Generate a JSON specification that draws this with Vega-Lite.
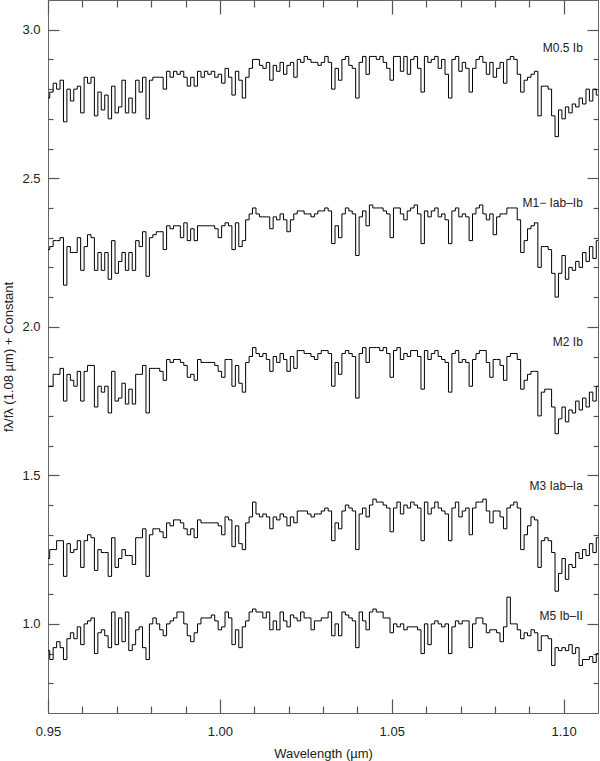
{
"$schema":"https://vega.github.io/schema/vega-lite/v6.json",
"width":550,"height":713,
"autosize":"none",
"padding":{"left":48,"top":0,"right":2,"bottom":48},
"background":"white",
"config":{"view":{"stroke":"#666","strokeWidth":1},
"axis":{"grid":false,"domain":false,"ticks":true,"tickColor":"#555","tickWidth":1.2,"labelFont":"Liberation Sans","labelFontSize":13,"labelColor":"#222","titleFont":"Liberation Sans","titleFontSize":13,"titleFontWeight":"normal","titleColor":"#222","labelFlush":false}},
"datasets":{
"m05":[{"w":0.950,"f":2.77},{"w":0.951,"f":2.79},{"w":0.952,"f":2.82},{"w":0.953,"f":2.80},{"w":0.954,"f":2.83},{"w":0.955,"f":2.69},{"w":0.956,"f":2.80},{"w":0.957,"f":2.76},{"w":0.958,"f":2.80},{"w":0.959,"f":2.81},
{"w":0.960,"f":2.72},{"w":0.961,"f":2.84},{"w":0.962,"f":2.82},{"w":0.963,"f":2.84},{"w":0.964,"f":2.71},{"w":0.965,"f":2.79},{"w":0.966,"f":2.73},{"w":0.967,"f":2.78},{"w":0.968,"f":2.70},{"w":0.969,"f":2.81},
{"w":0.970,"f":2.72},{"w":0.971,"f":2.74},{"w":0.972,"f":2.83},{"w":0.973,"f":2.72},{"w":0.974,"f":2.77},{"w":0.975,"f":2.72},{"w":0.976,"f":2.83},{"w":0.977,"f":2.79},{"w":0.978,"f":2.84},{"w":0.979,"f":2.70},
{"w":0.980,"f":2.83},{"w":0.981,"f":2.84},{"w":0.982,"f":2.84},{"w":0.983,"f":2.84},{"w":0.984,"f":2.80},{"w":0.985,"f":2.86},{"w":0.986,"f":2.84},{"w":0.987,"f":2.86},{"w":0.988,"f":2.85},{"w":0.989,"f":2.86},
{"w":0.990,"f":2.84},{"w":0.991,"f":2.81},{"w":0.992,"f":2.84},{"w":0.993,"f":2.81},{"w":0.994,"f":2.86},{"w":0.995,"f":2.84},{"w":0.996,"f":2.86},{"w":0.997,"f":2.85},{"w":0.998,"f":2.86},{"w":0.999,"f":2.84},
{"w":1.000,"f":2.85},{"w":1.001,"f":2.82},{"w":1.002,"f":2.87},{"w":1.003,"f":2.84},{"w":1.004,"f":2.78},{"w":1.005,"f":2.86},{"w":1.006,"f":2.83},{"w":1.007,"f":2.77},{"w":1.008,"f":2.84},{"w":1.009,"f":2.87},
{"w":1.010,"f":2.90},{"w":1.011,"f":2.90},{"w":1.012,"f":2.88},{"w":1.013,"f":2.87},{"w":1.014,"f":2.89},{"w":1.015,"f":2.83},{"w":1.016,"f":2.88},{"w":1.017,"f":2.86},{"w":1.018,"f":2.89},{"w":1.019,"f":2.85},
{"w":1.020,"f":2.88},{"w":1.021,"f":2.89},{"w":1.022,"f":2.84},{"w":1.023,"f":2.90},{"w":1.024,"f":2.89},{"w":1.025,"f":2.91},{"w":1.026,"f":2.90},{"w":1.027,"f":2.89},{"w":1.028,"f":2.89},{"w":1.029,"f":2.88},
{"w":1.030,"f":2.89},{"w":1.031,"f":2.91},{"w":1.032,"f":2.89},{"w":1.033,"f":2.80},{"w":1.034,"f":2.87},{"w":1.035,"f":2.83},{"w":1.036,"f":2.90},{"w":1.037,"f":2.91},{"w":1.038,"f":2.88},{"w":1.039,"f":2.87},
{"w":1.040,"f":2.77},{"w":1.041,"f":2.89},{"w":1.042,"f":2.91},{"w":1.043,"f":2.85},{"w":1.044,"f":2.91},{"w":1.045,"f":2.91},{"w":1.046,"f":2.90},{"w":1.047,"f":2.91},{"w":1.048,"f":2.89},{"w":1.049,"f":2.87},
{"w":1.050,"f":2.83},{"w":1.051,"f":2.91},{"w":1.052,"f":2.91},{"w":1.053,"f":2.86},{"w":1.054,"f":2.91},{"w":1.055,"f":2.85},{"w":1.056,"f":2.90},{"w":1.057,"f":2.91},{"w":1.058,"f":2.87},{"w":1.059,"f":2.79},
{"w":1.060,"f":2.91},{"w":1.061,"f":2.89},{"w":1.062,"f":2.90},{"w":1.063,"f":2.91},{"w":1.064,"f":2.87},{"w":1.065,"f":2.90},{"w":1.066,"f":2.85},{"w":1.067,"f":2.77},{"w":1.068,"f":2.90},{"w":1.069,"f":2.91},
{"w":1.070,"f":2.86},{"w":1.071,"f":2.89},{"w":1.072,"f":2.87},{"w":1.073,"f":2.79},{"w":1.074,"f":2.87},{"w":1.075,"f":2.90},{"w":1.076,"f":2.91},{"w":1.077,"f":2.89},{"w":1.078,"f":2.85},{"w":1.079,"f":2.89},
{"w":1.080,"f":2.84},{"w":1.081,"f":2.87},{"w":1.082,"f":2.89},{"w":1.083,"f":2.82},{"w":1.084,"f":2.90},{"w":1.085,"f":2.91},{"w":1.086,"f":2.90},{"w":1.087,"f":2.85},{"w":1.088,"f":2.79},{"w":1.089,"f":2.83},
{"w":1.090,"f":2.84},{"w":1.091,"f":2.85},{"w":1.092,"f":2.86},{"w":1.093,"f":2.71},{"w":1.094,"f":2.81},{"w":1.095,"f":2.81},{"w":1.096,"f":2.80},{"w":1.097,"f":2.71},{"w":1.098,"f":2.64},{"w":1.099,"f":2.73},
{"w":1.100,"f":2.70},{"w":1.101,"f":2.74},{"w":1.102,"f":2.72},{"w":1.103,"f":2.75},{"w":1.104,"f":2.74},{"w":1.105,"f":2.77},{"w":1.106,"f":2.75},{"w":1.107,"f":2.80},{"w":1.108,"f":2.76},{"w":1.109,"f":2.80},{"w":1.110,"f":2.78}],
"m1":[{"w":0.950,"f":2.26},{"w":0.951,"f":2.27},{"w":0.952,"f":2.29},{"w":0.953,"f":2.29},{"w":0.954,"f":2.30},{"w":0.955,"f":2.14},{"w":0.956,"f":2.27},{"w":0.957,"f":2.25},{"w":0.958,"f":2.25},{"w":0.959,"f":2.30},
{"w":0.960,"f":2.19},{"w":0.961,"f":2.27},{"w":0.962,"f":2.31},{"w":0.963,"f":2.30},{"w":0.964,"f":2.19},{"w":0.965,"f":2.25},{"w":0.966,"f":2.19},{"w":0.967,"f":2.25},{"w":0.968,"f":2.16},{"w":0.969,"f":2.29},
{"w":0.970,"f":2.18},{"w":0.971,"f":2.22},{"w":0.972,"f":2.25},{"w":0.973,"f":2.19},{"w":0.974,"f":2.25},{"w":0.975,"f":2.19},{"w":0.976,"f":2.29},{"w":0.977,"f":2.27},{"w":0.978,"f":2.32},{"w":0.979,"f":2.17},
{"w":0.980,"f":2.30},{"w":0.981,"f":2.31},{"w":0.982,"f":2.32},{"w":0.983,"f":2.32},{"w":0.984,"f":2.26},{"w":0.985,"f":2.34},{"w":0.986,"f":2.33},{"w":0.987,"f":2.34},{"w":0.988,"f":2.34},{"w":0.989,"f":2.30},
{"w":0.990,"f":2.35},{"w":0.991,"f":2.29},{"w":0.992,"f":2.33},{"w":0.993,"f":2.29},{"w":0.994,"f":2.34},{"w":0.995,"f":2.34},{"w":0.996,"f":2.34},{"w":0.997,"f":2.34},{"w":0.998,"f":2.34},{"w":0.999,"f":2.33},
{"w":1.000,"f":2.30},{"w":1.001,"f":2.34},{"w":1.002,"f":2.35},{"w":1.003,"f":2.34},{"w":1.004,"f":2.26},{"w":1.005,"f":2.35},{"w":1.006,"f":2.27},{"w":1.007,"f":2.29},{"w":1.008,"f":2.36},{"w":1.009,"f":2.38},
{"w":1.010,"f":2.40},{"w":1.011,"f":2.38},{"w":1.012,"f":2.37},{"w":1.013,"f":2.37},{"w":1.014,"f":2.37},{"w":1.015,"f":2.33},{"w":1.016,"f":2.37},{"w":1.017,"f":2.36},{"w":1.018,"f":2.38},{"w":1.019,"f":2.36},
{"w":1.020,"f":2.32},{"w":1.021,"f":2.36},{"w":1.022,"f":2.38},{"w":1.023,"f":2.39},{"w":1.024,"f":2.39},{"w":1.025,"f":2.38},{"w":1.026,"f":2.38},{"w":1.027,"f":2.37},{"w":1.028,"f":2.38},{"w":1.029,"f":2.39},
{"w":1.030,"f":2.39},{"w":1.031,"f":2.40},{"w":1.032,"f":2.39},{"w":1.033,"f":2.28},{"w":1.034,"f":2.34},{"w":1.035,"f":2.30},{"w":1.036,"f":2.38},{"w":1.037,"f":2.40},{"w":1.038,"f":2.39},{"w":1.039,"f":2.38},
{"w":1.040,"f":2.24},{"w":1.041,"f":2.37},{"w":1.042,"f":2.39},{"w":1.043,"f":2.34},{"w":1.044,"f":2.41},{"w":1.045,"f":2.40},{"w":1.046,"f":2.40},{"w":1.047,"f":2.40},{"w":1.048,"f":2.39},{"w":1.049,"f":2.38},
{"w":1.050,"f":2.30},{"w":1.051,"f":2.40},{"w":1.052,"f":2.40},{"w":1.053,"f":2.38},{"w":1.054,"f":2.36},{"w":1.055,"f":2.39},{"w":1.056,"f":2.40},{"w":1.057,"f":2.41},{"w":1.058,"f":2.38},{"w":1.059,"f":2.28},
{"w":1.060,"f":2.39},{"w":1.061,"f":2.37},{"w":1.062,"f":2.39},{"w":1.063,"f":2.40},{"w":1.064,"f":2.37},{"w":1.065,"f":2.38},{"w":1.066,"f":2.36},{"w":1.067,"f":2.28},{"w":1.068,"f":2.39},{"w":1.069,"f":2.40},
{"w":1.070,"f":2.37},{"w":1.071,"f":2.38},{"w":1.072,"f":2.37},{"w":1.073,"f":2.29},{"w":1.074,"f":2.38},{"w":1.075,"f":2.40},{"w":1.076,"f":2.41},{"w":1.077,"f":2.38},{"w":1.078,"f":2.36},{"w":1.079,"f":2.38},
{"w":1.080,"f":2.31},{"w":1.081,"f":2.37},{"w":1.082,"f":2.38},{"w":1.083,"f":2.38},{"w":1.084,"f":2.40},{"w":1.085,"f":2.40},{"w":1.086,"f":2.40},{"w":1.087,"f":2.36},{"w":1.088,"f":2.25},{"w":1.089,"f":2.29},
{"w":1.090,"f":2.33},{"w":1.091,"f":2.34},{"w":1.092,"f":2.35},{"w":1.093,"f":2.20},{"w":1.094,"f":2.27},{"w":1.095,"f":2.27},{"w":1.096,"f":2.26},{"w":1.097,"f":2.18},{"w":1.098,"f":2.10},{"w":1.099,"f":2.18},
{"w":1.100,"f":2.24},{"w":1.101,"f":2.16},{"w":1.102,"f":2.20},{"w":1.103,"f":2.19},{"w":1.104,"f":2.22},{"w":1.105,"f":2.20},{"w":1.106,"f":2.25},{"w":1.107,"f":2.22},{"w":1.108,"f":2.27},{"w":1.109,"f":2.23},{"w":1.110,"f":2.29}],
"m2":[{"w":0.950,"f":1.80},{"w":0.951,"f":1.80},{"w":0.952,"f":1.84},{"w":0.953,"f":1.84},{"w":0.954,"f":1.86},{"w":0.955,"f":1.75},{"w":0.956,"f":1.84},{"w":0.957,"f":1.82},{"w":0.958,"f":1.80},{"w":0.959,"f":1.85},
{"w":0.960,"f":1.75},{"w":0.961,"f":1.85},{"w":0.962,"f":1.87},{"w":0.963,"f":1.87},{"w":0.964,"f":1.73},{"w":0.965,"f":1.80},{"w":0.966,"f":1.78},{"w":0.967,"f":1.80},{"w":0.968,"f":1.71},{"w":0.969,"f":1.85},
{"w":0.970,"f":1.75},{"w":0.971,"f":1.76},{"w":0.972,"f":1.81},{"w":0.973,"f":1.74},{"w":0.974,"f":1.79},{"w":0.975,"f":1.74},{"w":0.976,"f":1.84},{"w":0.977,"f":1.84},{"w":0.978,"f":1.87},{"w":0.979,"f":1.71},
{"w":0.980,"f":1.86},{"w":0.981,"f":1.86},{"w":0.982,"f":1.86},{"w":0.983,"f":1.85},{"w":0.984,"f":1.82},{"w":0.985,"f":1.89},{"w":0.986,"f":1.88},{"w":0.987,"f":1.89},{"w":0.988,"f":1.89},{"w":0.989,"f":1.88},
{"w":0.990,"f":1.87},{"w":0.991,"f":1.83},{"w":0.992,"f":1.84},{"w":0.993,"f":1.82},{"w":0.994,"f":1.89},{"w":0.995,"f":1.88},{"w":0.996,"f":1.88},{"w":0.997,"f":1.88},{"w":0.998,"f":1.88},{"w":0.999,"f":1.87},
{"w":1.000,"f":1.85},{"w":1.001,"f":1.83},{"w":1.002,"f":1.89},{"w":1.003,"f":1.89},{"w":1.004,"f":1.80},{"w":1.005,"f":1.87},{"w":1.006,"f":1.81},{"w":1.007,"f":1.78},{"w":1.008,"f":1.88},{"w":1.009,"f":1.90},
{"w":1.010,"f":1.93},{"w":1.011,"f":1.91},{"w":1.012,"f":1.90},{"w":1.013,"f":1.91},{"w":1.014,"f":1.89},{"w":1.015,"f":1.85},{"w":1.016,"f":1.90},{"w":1.017,"f":1.88},{"w":1.018,"f":1.91},{"w":1.019,"f":1.89},
{"w":1.020,"f":1.85},{"w":1.021,"f":1.90},{"w":1.022,"f":1.86},{"w":1.023,"f":1.92},{"w":1.024,"f":1.92},{"w":1.025,"f":1.91},{"w":1.026,"f":1.91},{"w":1.027,"f":1.90},{"w":1.028,"f":1.89},{"w":1.029,"f":1.91},
{"w":1.030,"f":1.92},{"w":1.031,"f":1.92},{"w":1.032,"f":1.91},{"w":1.033,"f":1.80},{"w":1.034,"f":1.88},{"w":1.035,"f":1.84},{"w":1.036,"f":1.91},{"w":1.037,"f":1.92},{"w":1.038,"f":1.91},{"w":1.039,"f":1.90},
{"w":1.040,"f":1.76},{"w":1.041,"f":1.91},{"w":1.042,"f":1.93},{"w":1.043,"f":1.88},{"w":1.044,"f":1.93},{"w":1.045,"f":1.93},{"w":1.046,"f":1.93},{"w":1.047,"f":1.92},{"w":1.048,"f":1.93},{"w":1.049,"f":1.91},
{"w":1.050,"f":1.83},{"w":1.051,"f":1.92},{"w":1.052,"f":1.93},{"w":1.053,"f":1.89},{"w":1.054,"f":1.91},{"w":1.055,"f":1.90},{"w":1.056,"f":1.92},{"w":1.057,"f":1.92},{"w":1.058,"f":1.90},{"w":1.059,"f":1.79},
{"w":1.060,"f":1.92},{"w":1.061,"f":1.89},{"w":1.062,"f":1.91},{"w":1.063,"f":1.92},{"w":1.064,"f":1.90},{"w":1.065,"f":1.89},{"w":1.066,"f":1.88},{"w":1.067,"f":1.78},{"w":1.068,"f":1.91},{"w":1.069,"f":1.92},
{"w":1.070,"f":1.88},{"w":1.071,"f":1.89},{"w":1.072,"f":1.88},{"w":1.073,"f":1.80},{"w":1.074,"f":1.89},{"w":1.075,"f":1.91},{"w":1.076,"f":1.92},{"w":1.077,"f":1.92},{"w":1.078,"f":1.88},{"w":1.079,"f":1.83},
{"w":1.080,"f":1.89},{"w":1.081,"f":1.89},{"w":1.082,"f":1.87},{"w":1.083,"f":1.82},{"w":1.084,"f":1.90},{"w":1.085,"f":1.91},{"w":1.086,"f":1.91},{"w":1.087,"f":1.89},{"w":1.088,"f":1.79},{"w":1.089,"f":1.82},
{"w":1.090,"f":1.84},{"w":1.091,"f":1.85},{"w":1.092,"f":1.85},{"w":1.093,"f":1.70},{"w":1.094,"f":1.78},{"w":1.095,"f":1.79},{"w":1.096,"f":1.79},{"w":1.097,"f":1.73},{"w":1.098,"f":1.64},{"w":1.099,"f":1.69},
{"w":1.100,"f":1.73},{"w":1.101,"f":1.68},{"w":1.102,"f":1.72},{"w":1.103,"f":1.71},{"w":1.104,"f":1.75},{"w":1.105,"f":1.72},{"w":1.106,"f":1.76},{"w":1.107,"f":1.73},{"w":1.108,"f":1.78},{"w":1.109,"f":1.75},{"w":1.110,"f":1.80}],
"m3":[{"w":0.950,"f":1.22},{"w":0.951,"f":1.25},{"w":0.952,"f":1.25},{"w":0.953,"f":1.28},{"w":0.954,"f":1.28},{"w":0.955,"f":1.16},{"w":0.956,"f":1.27},{"w":0.957,"f":1.24},{"w":0.958,"f":1.25},{"w":0.959,"f":1.28},
{"w":0.960,"f":1.19},{"w":0.961,"f":1.28},{"w":0.962,"f":1.30},{"w":0.963,"f":1.29},{"w":0.964,"f":1.18},{"w":0.965,"f":1.25},{"w":0.966,"f":1.24},{"w":0.967,"f":1.24},{"w":0.968,"f":1.16},{"w":0.969,"f":1.29},
{"w":0.970,"f":1.19},{"w":0.971,"f":1.22},{"w":0.972,"f":1.25},{"w":0.973,"f":1.23},{"w":0.974,"f":1.23},{"w":0.975,"f":1.20},{"w":0.976,"f":1.29},{"w":0.977,"f":1.29},{"w":0.978,"f":1.32},{"w":0.979,"f":1.16},
{"w":0.980,"f":1.30},{"w":0.981,"f":1.32},{"w":0.982,"f":1.32},{"w":0.983,"f":1.31},{"w":0.984,"f":1.29},{"w":0.985,"f":1.34},{"w":0.986,"f":1.33},{"w":0.987,"f":1.35},{"w":0.988,"f":1.35},{"w":0.989,"f":1.34},
{"w":0.990,"f":1.32},{"w":0.991,"f":1.30},{"w":0.992,"f":1.32},{"w":0.993,"f":1.29},{"w":0.994,"f":1.35},{"w":0.995,"f":1.34},{"w":0.996,"f":1.34},{"w":0.997,"f":1.34},{"w":0.998,"f":1.34},{"w":0.999,"f":1.34},
{"w":1.000,"f":1.33},{"w":1.001,"f":1.30},{"w":1.002,"f":1.36},{"w":1.003,"f":1.35},{"w":1.004,"f":1.26},{"w":1.005,"f":1.33},{"w":1.006,"f":1.27},{"w":1.007,"f":1.25},{"w":1.008,"f":1.34},{"w":1.009,"f":1.36},
{"w":1.010,"f":1.41},{"w":1.011,"f":1.37},{"w":1.012,"f":1.36},{"w":1.013,"f":1.37},{"w":1.014,"f":1.36},{"w":1.015,"f":1.32},{"w":1.016,"f":1.36},{"w":1.017,"f":1.35},{"w":1.018,"f":1.37},{"w":1.019,"f":1.36},
{"w":1.020,"f":1.33},{"w":1.021,"f":1.36},{"w":1.022,"f":1.34},{"w":1.023,"f":1.38},{"w":1.024,"f":1.38},{"w":1.025,"f":1.38},{"w":1.026,"f":1.37},{"w":1.027,"f":1.36},{"w":1.028,"f":1.37},{"w":1.029,"f":1.37},
{"w":1.030,"f":1.38},{"w":1.031,"f":1.39},{"w":1.032,"f":1.38},{"w":1.033,"f":1.28},{"w":1.034,"f":1.34},{"w":1.035,"f":1.32},{"w":1.036,"f":1.38},{"w":1.037,"f":1.40},{"w":1.038,"f":1.39},{"w":1.039,"f":1.38},
{"w":1.040,"f":1.25},{"w":1.041,"f":1.37},{"w":1.042,"f":1.39},{"w":1.043,"f":1.36},{"w":1.044,"f":1.40},{"w":1.045,"f":1.42},{"w":1.046,"f":1.41},{"w":1.047,"f":1.41},{"w":1.048,"f":1.40},{"w":1.049,"f":1.39},
{"w":1.050,"f":1.31},{"w":1.051,"f":1.39},{"w":1.052,"f":1.41},{"w":1.053,"f":1.37},{"w":1.054,"f":1.40},{"w":1.055,"f":1.39},{"w":1.056,"f":1.41},{"w":1.057,"f":1.40},{"w":1.058,"f":1.39},{"w":1.059,"f":1.28},
{"w":1.060,"f":1.41},{"w":1.061,"f":1.37},{"w":1.062,"f":1.39},{"w":1.063,"f":1.41},{"w":1.064,"f":1.39},{"w":1.065,"f":1.38},{"w":1.066,"f":1.37},{"w":1.067,"f":1.28},{"w":1.068,"f":1.39},{"w":1.069,"f":1.41},
{"w":1.070,"f":1.36},{"w":1.071,"f":1.38},{"w":1.072,"f":1.39},{"w":1.073,"f":1.30},{"w":1.074,"f":1.39},{"w":1.075,"f":1.41},{"w":1.076,"f":1.41},{"w":1.077,"f":1.42},{"w":1.078,"f":1.38},{"w":1.079,"f":1.34},
{"w":1.080,"f":1.38},{"w":1.081,"f":1.38},{"w":1.082,"f":1.36},{"w":1.083,"f":1.32},{"w":1.084,"f":1.39},{"w":1.085,"f":1.40},{"w":1.086,"f":1.41},{"w":1.087,"f":1.39},{"w":1.088,"f":1.25},{"w":1.089,"f":1.30},
{"w":1.090,"f":1.33},{"w":1.091,"f":1.36},{"w":1.092,"f":1.35},{"w":1.093,"f":1.19},{"w":1.094,"f":1.28},{"w":1.095,"f":1.29},{"w":1.096,"f":1.28},{"w":1.097,"f":1.24},{"w":1.098,"f":1.11},{"w":1.099,"f":1.17},
{"w":1.100,"f":1.22},{"w":1.101,"f":1.15},{"w":1.102,"f":1.20},{"w":1.103,"f":1.19},{"w":1.104,"f":1.24},{"w":1.105,"f":1.22},{"w":1.106,"f":1.25},{"w":1.107,"f":1.23},{"w":1.108,"f":1.27},{"w":1.109,"f":1.24},{"w":1.110,"f":1.29}],
"m5":[{"w":0.950,"f":0.91},{"w":0.951,"f":0.88},{"w":0.952,"f":0.92},{"w":0.953,"f":0.94},{"w":0.954,"f":0.92},{"w":0.955,"f":0.88},{"w":0.956,"f":0.95},{"w":0.957,"f":0.97},{"w":0.958,"f":0.95},{"w":0.959,"f":0.99},
{"w":0.960,"f":0.93},{"w":0.961,"f":1.00},{"w":0.962,"f":1.01},{"w":0.963,"f":1.02},{"w":0.964,"f":0.90},{"w":0.965,"f":0.97},{"w":0.966,"f":0.98},{"w":0.967,"f":0.96},{"w":0.968,"f":0.92},{"w":0.969,"f":1.04},
{"w":0.970,"f":0.93},{"w":0.971,"f":1.02},{"w":0.972,"f":0.94},{"w":0.973,"f":1.04},{"w":0.974,"f":0.91},{"w":0.975,"f":0.93},{"w":0.976,"f":0.98},{"w":0.977,"f":0.99},{"w":0.978,"f":0.92},{"w":0.979,"f":0.88},
{"w":0.980,"f":1.00},{"w":0.981,"f":1.02},{"w":0.982,"f":1.00},{"w":0.983,"f":0.98},{"w":0.984,"f":0.96},{"w":0.985,"f":1.00},{"w":0.986,"f":1.01},{"w":0.987,"f":1.02},{"w":0.988,"f":1.04},{"w":0.989,"f":1.04},
{"w":0.990,"f":1.00},{"w":0.991,"f":0.96},{"w":0.992,"f":0.94},{"w":0.993,"f":0.97},{"w":0.994,"f":1.00},{"w":0.995,"f":1.02},{"w":0.996,"f":1.02},{"w":0.997,"f":1.02},{"w":0.998,"f":1.03},{"w":0.999,"f":1.01},
{"w":1.000,"f":0.98},{"w":1.001,"f":0.99},{"w":1.002,"f":1.04},{"w":1.003,"f":1.02},{"w":1.004,"f":0.93},{"w":1.005,"f":0.98},{"w":1.006,"f":0.92},{"w":1.007,"f":0.99},{"w":1.008,"f":1.01},{"w":1.009,"f":1.04},
{"w":1.010,"f":1.05},{"w":1.011,"f":1.04},{"w":1.012,"f":1.04},{"w":1.013,"f":1.02},{"w":1.014,"f":1.04},{"w":1.015,"f":0.98},{"w":1.016,"f":1.01},{"w":1.017,"f":0.98},{"w":1.018,"f":1.04},{"w":1.019,"f":1.01},
{"w":1.020,"f":0.99},{"w":1.021,"f":1.03},{"w":1.022,"f":1.02},{"w":1.023,"f":1.01},{"w":1.024,"f":1.04},{"w":1.025,"f":1.02},{"w":1.026,"f":1.02},{"w":1.027,"f":0.98},{"w":1.028,"f":1.01},{"w":1.029,"f":1.01},
{"w":1.030,"f":1.02},{"w":1.031,"f":1.02},{"w":1.032,"f":1.04},{"w":1.033,"f":0.96},{"w":1.034,"f":1.00},{"w":1.035,"f":0.96},{"w":1.036,"f":1.04},{"w":1.037,"f":1.03},{"w":1.038,"f":1.02},{"w":1.039,"f":1.01},
{"w":1.040,"f":0.92},{"w":1.041,"f":1.04},{"w":1.042,"f":1.01},{"w":1.043,"f":0.98},{"w":1.044,"f":1.04},{"w":1.045,"f":1.05},{"w":1.046,"f":1.04},{"w":1.047,"f":1.04},{"w":1.048,"f":1.02},{"w":1.049,"f":1.02},
{"w":1.050,"f":0.97},{"w":1.051,"f":1.00},{"w":1.052,"f":0.99},{"w":1.053,"f":1.00},{"w":1.054,"f":0.98},{"w":1.055,"f":0.99},{"w":1.056,"f":0.99},{"w":1.057,"f":0.99},{"w":1.058,"f":0.98},{"w":1.059,"f":0.90},
{"w":1.060,"f":1.00},{"w":1.061,"f":0.93},{"w":1.062,"f":1.00},{"w":1.063,"f":1.01},{"w":1.064,"f":1.00},{"w":1.065,"f":0.99},{"w":1.066,"f":1.00},{"w":1.067,"f":0.90},{"w":1.068,"f":0.99},{"w":1.069,"f":1.01},
{"w":1.070,"f":1.00},{"w":1.071,"f":1.01},{"w":1.072,"f":1.01},{"w":1.073,"f":0.92},{"w":1.074,"f":1.00},{"w":1.075,"f":1.02},{"w":1.076,"f":1.02},{"w":1.077,"f":1.00},{"w":1.078,"f":0.97},{"w":1.079,"f":0.98},
{"w":1.080,"f":0.98},{"w":1.081,"f":0.97},{"w":1.082,"f":0.94},{"w":1.083,"f":0.99},{"w":1.084,"f":1.09},{"w":1.085,"f":1.00},{"w":1.086,"f":1.00},{"w":1.087,"f":0.98},{"w":1.088,"f":0.95},{"w":1.089,"f":0.97},
{"w":1.090,"f":0.96},{"w":1.091,"f":0.98},{"w":1.092,"f":0.97},{"w":1.093,"f":0.91},{"w":1.094,"f":0.96},{"w":1.095,"f":0.96},{"w":1.096,"f":0.95},{"w":1.097,"f":0.86},{"w":1.098,"f":0.92},{"w":1.099,"f":0.91},
{"w":1.100,"f":0.92},{"w":1.101,"f":0.91},{"w":1.102,"f":0.93},{"w":1.103,"f":0.90},{"w":1.104,"f":0.92},{"w":1.105,"f":0.86},{"w":1.106,"f":0.88},{"w":1.107,"f":0.88},{"w":1.108,"f":0.89},{"w":1.109,"f":0.87},{"w":1.110,"f":0.90}],
"labels":[{"w":1.1056,"f":2.938,"t":"M0.5 Ib"},{"w":1.1056,"f":2.416,"t":"M1− Iab–Ib"},{"w":1.1056,"f":1.950,"t":"M2 Ib"},{"w":1.1056,"f":1.465,"t":"M3 Iab–Ia"},{"w":1.1056,"f":1.026,"t":"M5 Ib–II"}]
},
"layer":[
{"data":{"name":"m05"},"mark":{"type":"line","interpolate":"step","stroke":"#000","strokeWidth":1},
"encoding":{
"x":{"field":"w","type":"quantitative","scale":{"domain":[0.95,1.11],"nice":false,"zero":false},
"axis":{"orient":"bottom","title":"Wavelength (µm)","titlePadding":9,"values":[0.95,1.0,1.05,1.1],"format":".2f","offset":-14,"tickSize":14,"labelPadding":12}},
"y":{"field":"f","type":"quantitative","scale":{"domain":[0.7,3.1],"nice":false,"zero":false},
"axis":{"orient":"left","title":"fλ/fλ (1.08 µm) + Constant","titlePadding":6,"values":[1.0,1.5,2.0,2.5,3.0],"format":".1f","offset":-11,"tickSize":11,"labelPadding":8}}}},
{"data":{"name":"m1"},"mark":{"type":"line","interpolate":"step","stroke":"#000","strokeWidth":1},
"encoding":{
"x":{"field":"w","type":"quantitative","scale":{"domain":[0.95,1.11],"nice":false,"zero":false},
"axis":{"orient":"top","title":null,"labels":false,"values":[0.95,1.0,1.05,1.1],"offset":-14,"tickSize":14}},
"y":{"field":"f","type":"quantitative","scale":{"domain":[0.7,3.1],"nice":false,"zero":false},
"axis":{"orient":"right","title":null,"labels":false,"values":[1.0,1.5,2.0,2.5,3.0],"offset":-11,"tickSize":11}}}},
{"data":{"name":"m2"},"mark":{"type":"line","interpolate":"step","stroke":"#000","strokeWidth":1},
"encoding":{
"x":{"field":"w","type":"quantitative","axis":{"orient":"bottom","title":null,"labels":false,"values":[0.96,0.97,0.98,0.99,1.01,1.02,1.03,1.04,1.06,1.07,1.08,1.09],"offset":-7,"tickSize":7}},
"y":{"field":"f","type":"quantitative","axis":{"orient":"left","title":null,"labels":false,"values":[0.8,0.9,1.1,1.2,1.3,1.4,1.6,1.7,1.8,1.9,2.1,2.2,2.3,2.4,2.6,2.7,2.8,2.9],"offset":-5,"tickSize":5}}}},
{"data":{"name":"m3"},"mark":{"type":"line","interpolate":"step","stroke":"#000","strokeWidth":1},
"encoding":{
"x":{"field":"w","type":"quantitative","axis":{"orient":"top","title":null,"labels":false,"values":[0.96,0.97,0.98,0.99,1.01,1.02,1.03,1.04,1.06,1.07,1.08,1.09],"offset":-7,"tickSize":7}},
"y":{"field":"f","type":"quantitative","axis":{"orient":"right","title":null,"labels":false,"values":[0.8,0.9,1.1,1.2,1.3,1.4,1.6,1.7,1.8,1.9,2.1,2.2,2.3,2.4,2.6,2.7,2.8,2.9],"offset":-5,"tickSize":5}}}},
{"data":{"name":"m5"},"mark":{"type":"line","interpolate":"step","stroke":"#000","strokeWidth":1},
"encoding":{"x":{"field":"w","type":"quantitative","axis":null},"y":{"field":"f","type":"quantitative","axis":null}}},
{"data":{"name":"labels"},"mark":{"type":"text","align":"right","baseline":"middle","font":"Liberation Sans","fontSize":12,"fill":"#222"},
"encoding":{"x":{"field":"w","type":"quantitative","axis":null},"y":{"field":"f","type":"quantitative","axis":null},"text":{"field":"t"}}}
],
"resolve":{"axis":{"x":"independent","y":"independent"}}
}
